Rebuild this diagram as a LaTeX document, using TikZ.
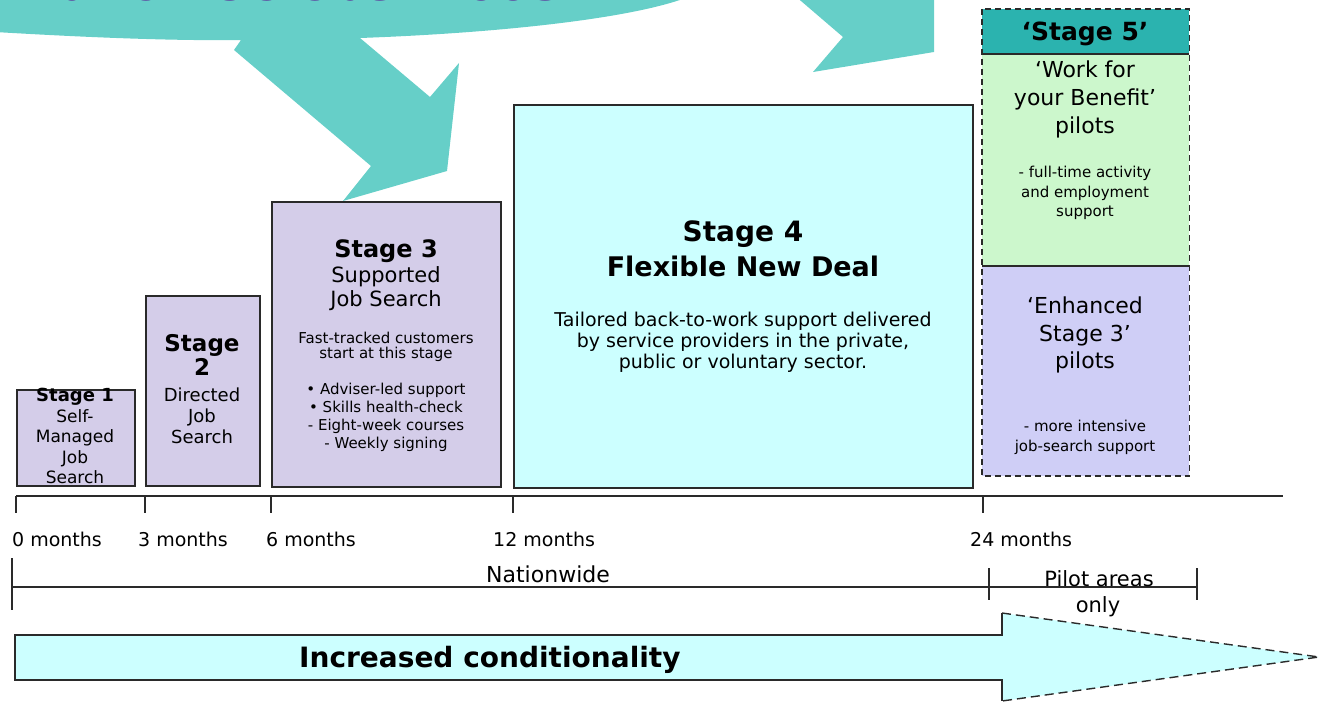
\documentclass[tikz,border=0pt]{standalone}
\usepackage{fontspec}
\setmainfont{DejaVu Sans}
\usetikzlibrary{positioning}

\definecolor{calloutteal}{HTML}{66CFC8}
\definecolor{bannerpurple}{HTML}{5A2E98}
\definecolor{stagelav}{HTML}{D4CDE9}
\definecolor{stagecyan}{HTML}{CCFFFF}
\definecolor{pilotgreen}{HTML}{CCF7CC}
\definecolor{pilotlav}{HTML}{CFCEF6}
\definecolor{headteal}{HTML}{2BB3AF}
\definecolor{edgegrey}{HTML}{2A2A2A}

\begin{document}
\begin{tikzpicture}[x=1pt, y=-1pt,
    stagebox/.style={draw=edgegrey, line width=1.8pt, fill=stagelav, inner sep=0pt, anchor=north west},
    pilotpart/.style={inner sep=0pt, anchor=north west, minimum width=207},
    stagetitle/.style={font=\bfseries\fontsize{#1}{#1}\selectfont, inner sep=0pt, anchor=north, align=center},
    bodytext/.style 2 args={font=\fontsize{#1}{#2}\selectfont, inner sep=0pt, anchor=north, align=center},
    axisline/.style={draw=edgegrey, line width=1.4pt}]
    \useasboundingbox (0,0) rectangle (1319,701);

    % teal callout with its two arrows
    \fill[calloutteal] (-5,32) .. controls (80,37) and (170,41) .. (241,40) -- (234,50) -- (371,166)
        -- (343,201) -- (447,171) -- (459,63) -- (430,97) -- (360,38)
        .. controls (500,33) and (640,18) .. (693,-5) -- (-5,-5) -- cycle;
    \fill[calloutteal] (794,-5) -- (843,37) -- (813,72) -- (934,52) -- (934,-5) -- cycle;
    \node[anchor=base east, text=bannerpurple, font=\bfseries\fontsize{46}{46}\selectfont, inner sep=0pt]
        (banner) at (562,1) {Implementation October 2008};

    % stages 1 to 4
    \node[stagebox, minimum width=118, minimum height=96] (s1) at (16,389) {};
    \node[stagebox, minimum width=114, minimum height=190] (s2) at (145,295) {};
    \node[stagebox, minimum width=229, minimum height=285] (s3) at (271,201) {};
    \node[stagebox, fill=stagecyan, minimum width=459, minimum height=383] (s4) at (513,104) {};

    \node[stagetitle=18] (s1title) at (75,388) {Stage 1};
    \node[bodytext={17}{20.5}] (s1body) at (75,409) {Self-\\Managed\\Job\\Search};

    \node[stagetitle=23, font=\bfseries\fontsize{23}{24}\selectfont] (s2title) at (202,334) {Stage\\2};
    \node[bodytext={18}{21}] (s2body) at (202,388) {Directed\\Job\\Search};

    \node[stagetitle=24] (s3title) at (386,239) {Stage 3};
    \node[bodytext={21}{24}] (s3body) at (386,266) {Supported\\Job Search};
    \node[bodytext={15}{15}] (s3fast) at (386,332) {Fast-tracked customers\\start at this stage};
    \node[bodytext={15}{18}] (s3list) at (386,383)
        {• Adviser-led support\\• Skills health-check\\- Eight-week courses\\- Weekly signing};

    \node[stagetitle=28] (s4title) at (743,221) {Stage 4};
    \node[stagetitle=27] (s4name) at (743,256) {Flexible New Deal};
    \node[bodytext={19}{21}] (s4body) at (743,312)
        {Tailored back-to-work support delivered\\by service providers in the private,\\public or voluntary sector.};

    % stage 5 pilots
    \node[pilotpart, fill=headteal, minimum height=45] (s5head) at (982,9) {};
    \node[pilotpart, fill=pilotgreen, minimum height=211] (s5work) at (s5head.south west) {};
    \node[pilotpart, fill=pilotlav, minimum height=210] (s5enh) at (s5work.south west) {};
    \draw[edgegrey, line width=1.8pt] (s5head.south west) -- (s5head.south east);
    \draw[edgegrey, line width=1.8pt] (s5work.south west) -- (s5work.south east);
    \draw[edgegrey, line width=1.6pt, dash pattern=on 6pt off 4pt] (s5head.north west) rectangle (s5enh.south east);

    \node[stagetitle=25] (s5title) at (1085,22) {`Stage 5'};
    \node[bodytext={22}{28}] (s5work1) at (1085,61) {`Work for\\your Benefit'\\pilots};
    \node[bodytext={15}{19.5}] (s5work2) at (1085,166) {- full-time activity\\and employment\\support};
    \node[bodytext={22}{27.5}] (s5enh1) at (1085,297) {`Enhanced\\Stage 3'\\pilots};
    \node[bodytext={15}{20}] (s5enh2) at (1085,420) {- more intensive\\job-search support};

    % time axis
    \coordinate (axisL) at (16,496);
    \coordinate (axisR) at (1283,496);
    \draw[axisline] (axisL) -- (axisR);
    \foreach \x/\lx/\lab [count=\i] in {16/12/0 months, 145/138/3 months, 271/266/6 months,
                                       513/493/12 months, 983/970/24 months} {
        \coordinate (tick\i) at (\x,496);
        \draw[axisline] (tick\i) -- ++(0,17);
        \node[anchor=base west, inner sep=0pt, font=\fontsize{19}{19}\selectfont] (month\i) at (\lx,546) {\lab};
    }

    % coverage
    \coordinate (nwL) at (12,587);
    \coordinate (nwR) at (989,587);
    \coordinate (plR) at (1197,587);
    \draw[edgegrey, line width=1.2pt] (nwL) -- (plR);
    \draw[edgegrey, line width=1.2pt] (12,558) -- (12,610);
    \draw[edgegrey, line width=1.2pt] (989,568) -- (989,600);
    \draw[edgegrey, line width=1.2pt] (1197,568) -- (1197,600);
    \node[anchor=base, inner sep=0pt, font=\fontsize{22}{22}\selectfont] (nation) at (548,582) {Nationwide};
    \node[anchor=base, inner sep=0pt, font=\fontsize{21}{21}\selectfont] (pilot) at (1099,586) {Pilot areas};
    \node[anchor=base, inner sep=0pt, font=\fontsize{21}{21}\selectfont] (only) at (1098,612) {only};

    % conditionality arrow
    \fill[stagecyan] (15,635) -- (1002,635) -- (1002,613) -- (1319,657) -- (1002,701) -- (1002,680) -- (15,680) -- cycle;
    \draw[edgegrey, line width=1.4pt] (1002,613) -- (1002,635) -- (15,635) -- (15,680) -- (1002,680) -- (1002,701);
    \draw[edgegrey, line width=1.4pt, dash pattern=on 9pt off 5pt] (1002,613) -- (1319,657) -- (1002,701);
    \node[anchor=base west, inner sep=0pt, font=\bfseries\fontsize{28}{28}\selectfont] (cond) at (299,667) {Increased conditionality};
\end{tikzpicture}
\end{document}
